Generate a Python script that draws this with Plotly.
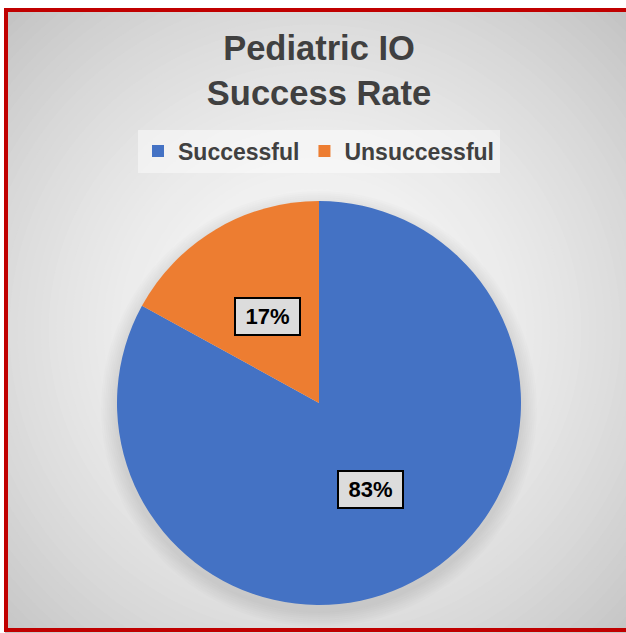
"""
Pediatric IO success rate pie, office-style framed card.
"""

import math
import plotly.graph_objects as go

W, H = 626, 633
FONT = "Liberation Sans, Arial, sans-serif"
INK = "#404040"

labels = ["Successful", "Unsuccessful"]
values = [83, 17]
colors = ["#4472C4", "#ED7D31"]

# pie geometry in pixels
CX, CY, R = 319, 403, 202


def px_x(x):
    return x / W


def px_y(y):
    return 1 - y / H


fig = go.Figure(go.Pie(
    labels=labels, values=values, sort=False,
    direction="clockwise", rotation=0,
    marker=dict(colors=colors, line=dict(width=0)),
    textinfo="none",
    hovertemplate="%{label}: %{percent}<extra></extra>",
    domain=dict(x=[px_x(CX - R), px_x(CX + R)], y=[px_y(CY + R), px_y(CY - R)]),
))

shapes = []

# radial gradient background, drawn as concentric circles
GX, GY = 315, 330
N = 60
for i in range(N):
    r = 470 * (1 - i / N)
    g = int(round(248 - 52 * min(r / 440, 1.08) ** 1.77))
    shapes.append(dict(
        type="circle", xref="paper", yref="paper", layer="below",
        x0=px_x(GX - r), x1=px_x(GX + r), y0=px_y(GY + r), y1=px_y(GY - r),
        fillcolor=f"rgb({g},{g},{g})", line=dict(width=0),
    ))

# soft shadow under the pie
for k in range(8):
    r = R + 2 + k * 2
    shapes.append(dict(
        type="circle", xref="paper", yref="paper", layer="below",
        x0=px_x(CX - r), x1=px_x(CX + r), y0=px_y(CY + 6 + r), y1=px_y(CY + 6 - r),
        fillcolor="rgba(0,0,0,0.012)", line=dict(width=0),
    ))

# white margin outside the frame, then the red frame
shapes.append(dict(type="rect", xref="paper", yref="paper", layer="below",
                   x0=0, x1=1, y0=px_y(9), y1=1.01,
                   fillcolor="white", line=dict(width=0)))
shapes.append(dict(type="rect", xref="paper", yref="paper", layer="below",
                   x0=-0.01, x1=px_x(5), y0=-0.01, y1=1.01,
                   fillcolor="white", line=dict(width=0)))
shapes.append(dict(type="rect", xref="paper", yref="paper", layer="below",
                   x0=px_x(6), x1=1.02, y0=px_y(630), y1=px_y(10),
                   fillcolor="rgba(0,0,0,0)", line=dict(color="#C00000", width=4)))

# data labels in boxes at half radius
annotations = []
total = sum(values)
cum = 0
for v in values:
    theta = 2 * math.pi * (cum + v / 2) / total
    cum += v
    x = CX + 0.5 * R * math.sin(theta)
    y = CY - 0.5 * R * math.cos(theta)
    annotations.append(dict(
        x=px_x(x), y=px_y(y), xref="paper", yref="paper",
        xanchor="center", yanchor="middle",
        text=f"\u2009{round(100 * v / total)}%\u2009", showarrow=False,
        font=dict(size=22, color="black", family=FONT, weight="bold"),
        bgcolor="#DCDCDC", bordercolor="black", borderwidth=2, borderpad=5,
    ))

fig.update_layout(
    width=W, height=H,
    margin=dict(l=0, r=0, t=0, b=0),
    paper_bgcolor="white",
    title=dict(text="Pediatric IO<br>Success Rate",
               font=dict(size=34.5, color=INK, family=FONT, weight="bold"),
               x=px_x(319), xanchor="center", y=px_y(60), yanchor="middle",
               yref="container", xref="container"),
    legend=dict(orientation="h", x=px_x(319), xanchor="center",
                y=px_y(151), yanchor="middle",
                font=dict(size=23, color=INK, family=FONT, weight="bold"),
                bgcolor="rgba(255,255,255,0.45)", traceorder="normal"),
    shapes=shapes,
    annotations=annotations,
    font=dict(family=FONT, color=INK),
)

fig.write_html("out.html", config=dict(displayModeBar=False),
               post_script="document.body.style.margin='0';"
                           "document.body.style.overflow='hidden';")
